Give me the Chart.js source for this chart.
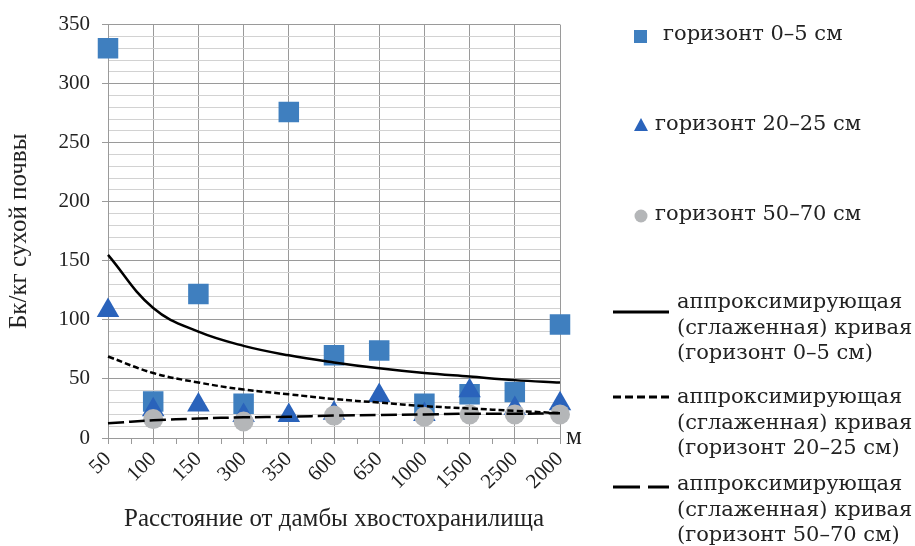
<!DOCTYPE html>
<html>
<head>
<meta charset="utf-8">
<script src="https://cdn.jsdelivr.net/npm/chart.js@4"></script>
<style>
  body { margin: 0; background: #fff; }
  #wrap { position: relative; width: 915px; height: 546px; }
  #chart { position: absolute; left: 0; top: 0; }
  .lg { position: absolute; font-family: "DejaVu Serif", serif; font-size: 21px; color: #222; white-space: nowrap; }
  .unit { position: absolute; left: 566px; top: 422px; font-family: "Liberation Serif", serif; font-size: 25px; color: #222; }
</style>
</head>
<body>
<div id="wrap">
  <canvas id="chart" width="915" height="546"></canvas>
  <div class="unit">м</div>

  <svg class="lg" style="left:634px;top:30px" width="14" height="14"><rect width="13" height="13" fill="#3f7fbf"/></svg>
  <div class="lg" style="left:663px;top:21px">горизонт 0–5 см</div>

  <svg class="lg" style="left:633px;top:118px" width="16" height="14"><polygon points="8,0 15,13 1,13" fill="#2a63bb"/></svg>
  <div class="lg" style="left:655px;top:111px">горизонт 20–25 см</div>

  <svg class="lg" style="left:634px;top:209px" width="14" height="14"><circle cx="7" cy="7" r="6.5" fill="#b4b6b8"/></svg>
  <div class="lg" style="left:655px;top:201px">горизонт 50–70 см</div>

  <svg class="lg" style="left:612px;top:309px" width="58" height="6"><line x1="1" y1="3" x2="57" y2="3" stroke="#000" stroke-width="3"/></svg>
  <div class="lg" style="left:677px;top:289px;line-height:25.5px">аппроксимирующая<br>(сглаженная) кривая<br>(горизонт 0–5 см)</div>

  <svg class="lg" style="left:612px;top:394px" width="58" height="6"><line x1="1" y1="3" x2="57" y2="3" stroke="#000" stroke-width="3" stroke-dasharray="8,4"/></svg>
  <div class="lg" style="left:677px;top:384px;line-height:25.5px">аппроксимирующая<br>(сглаженная) кривая<br>(горизонт 20–25 см)</div>

  <svg class="lg" style="left:612px;top:484px" width="58" height="6"><line x1="1" y1="3" x2="57" y2="3" stroke="#000" stroke-width="3" stroke-dasharray="27,8"/></svg>
  <div class="lg" style="left:677px;top:471px;line-height:25.5px">аппроксимирующая<br>(сглаженная) кривая<br>(горизонт 50–70 см)</div>
</div>
<script>
// distance from the dam, m (order as on the original axis)
const categories = ['50', '100', '150', '300', '350', '600', '650', '1000', '1500', '2500', '2000']

// measured activity, Bq/kg dry soil
const horizon0_5 = [330, 31, 122, 29, 276, 70, 74, 29, 37, 39, 96]
const horizon20_25 = [108, 24, 28, 19, 19, 21, 36, 20, 40, 25, 29]
const horizon50_70 = [null, 16, null, 14, null, 19, null, 18, 20, 20, 20]

// smoothed curves at each category
const trend0_5 = [155, 110, 90, 78, 70, 64, 59, 55, 52, 49, 47]
const trend20_25 = [69, 55, 47, 41, 37, 33, 30, 27, 25, 23, 21]
const trend50_70 = [12.5, 15, 16.5, 17.5, 18, 19, 19.5, 20, 20.5, 20.5, 21]

const yTicks = [0, 50, 100, 150, 200, 250, 300, 350]

const serif = 'Liberation Serif'
const major = '#9a9a9a'
const minor = '#d2d2d2'

const curve = (data, dash) => ({
    type: 'line',
    data: data,
    borderColor: '#000',
    borderWidth: 2.5,
    borderDash: dash,
    pointRadius: 0,
    fill: false,
    tension: 0.4,
    order: 0
})

const marks = (data, style, radius, color, order) => ({
    type: 'line',
    data: data,
    showLine: false,
    pointStyle: style,
    pointRadius: radius,
    pointHoverRadius: radius,
    pointBackgroundColor: color,
    pointBorderColor: color,
    pointBorderWidth: 0,
    order: order
})

// small ticks between categories under the x axis
const halfTicks = {
    id: 'halfTicks',
    afterDraw(chart) {
        const x = chart.scales.x
        const ctx = chart.ctx
        const y0 = chart.chartArea.bottom
        ctx.save()
        ctx.strokeStyle = major
        ctx.lineWidth = 1
        for (let i = 0; i < categories.length - 1; i++) {
            const px = (x.getPixelForTick(i) + x.getPixelForTick(i + 1)) / 2
            ctx.beginPath()
            ctx.moveTo(Math.round(px) + 0.5, y0)
            ctx.lineTo(Math.round(px) + 0.5, y0 + 6)
            ctx.stroke()
        }
        ctx.restore()
    }
}

new Chart(document.getElementById('chart'), {
    data: {
        labels: categories,
        datasets: [
            curve(trend0_5, []),
            curve(trend20_25, [6, 3]),
            curve(trend50_70, [16, 5]),
            marks(horizon50_70, 'circle', 10, '#b4b6b8', 1),
            marks(horizon20_25, 'triangle', 13, '#2a63bb', 2),
            marks(horizon0_5, 'rect', 14.5, '#3f7fbf', 3)
        ]
    },
    options: {
        responsive: false,
        animation: false,
        events: [],
        layout: { padding: { left: 0, top: 21, right: 355, bottom: 0 } },
        plugins: { legend: { display: false }, tooltip: { enabled: false } },
        scales: {
            x: {
                type: 'category',
                offset: false,
                grid: { color: major, tickColor: major, tickLength: 6 },
                border: { color: major },
                ticks: {
                    color: '#222',
                    font: { family: serif, size: 21 },
                    maxRotation: 45,
                    minRotation: 45,
                    padding: 3,
                    autoSkip: false
                },
                title: {
                    display: true,
                    text: 'Расстояние от дамбы хвостохранилища',
                    color: '#222',
                    font: { family: serif, size: 25 },
                    padding: { top: 0, bottom: 12 }
                },
                afterFit(scale) { scale.height = 546 - 438 }
            },
            y: {
                min: 0,
                max: 350,
                grid: {
                    color: c => (c.tick && c.tick.value % 50 === 0) ? major : minor,
                    tickColor: c => (c.tick && c.tick.value % 50 === 0) ? major : 'rgba(0,0,0,0)',
                    tickLength: 6
                },
                border: { color: major },
                ticks: {
                    stepSize: 10,
                    maxTicksLimit: 100,
                    autoSkip: false,
                    color: '#222',
                    padding: 12,
                    font: { family: serif, size: 21 },
                    callback: v => yTicks.includes(v) ? v : ''
                },
                title: {
                    display: true,
                    text: 'Бк/кг сухой почвы',
                    color: '#222',
                    font: { family: serif, size: 25 },
                    padding: { top: 4, bottom: 0 }
                },
                afterFit(scale) { scale.width = 108 }
            }
        }
    },
    plugins: [halfTicks]
})
</script>
</body>
</html>
